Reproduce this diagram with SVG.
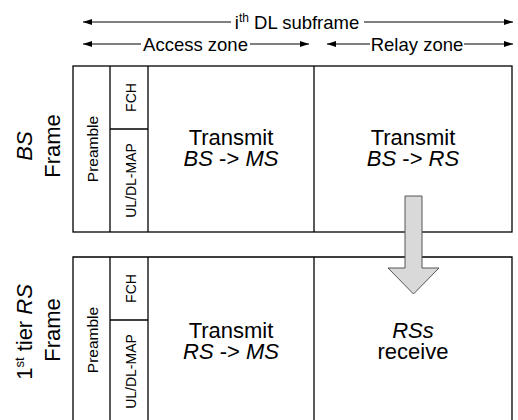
<svg xmlns="http://www.w3.org/2000/svg" width="518" height="420" viewBox="0 0 518 420">
<defs>
<style>
text{font-family:"Liberation Sans",Arial,sans-serif;fill:#000}
.hd{font-size:18.5px;text-anchor:middle}
.big{font-size:22px;text-anchor:middle}
.side{font-size:22px;text-anchor:middle}
.sm{font-size:15.5px;text-anchor:middle}
.sm2{font-size:14px;text-anchor:middle}
.ln{stroke:#000;stroke-width:1.3;fill:none}
.ar{stroke:#000;stroke-width:1;fill:none}
.it{font-style:italic}
</style>
<marker id="ah" markerUnits="userSpaceOnUse" markerWidth="10" markerHeight="6" refX="9" refY="3" orient="auto-start-reverse">
<path d="M0,0 L9,3 L0,6 z" fill="#000"/>
</marker>
</defs>
<rect width="518" height="420" fill="#fff"/>

<g id="header">
<line class="ar" x1="83" y1="22" x2="231" y2="22" marker-start="url(#ah)"/>
<line class="ar" x1="364" y1="22" x2="513" y2="22" marker-end="url(#ah)"/>
<text class="hd" x="297" y="28.5">i<tspan font-size="12" dy="-6.5">th</tspan><tspan dy="6.5"> DL subframe</tspan></text>
<line class="ar" x1="83" y1="44" x2="141" y2="44" marker-start="url(#ah)"/>
<line class="ar" x1="250" y1="44" x2="309" y2="44" marker-end="url(#ah)"/>
<text class="hd" x="195.5" y="50.5">Access zone</text>
<line class="ar" x1="327" y1="44" x2="370" y2="44" marker-start="url(#ah)"/>
<line class="ar" x1="464" y1="44" x2="513" y2="44" marker-end="url(#ah)"/>
<text class="hd" x="417" y="50.5">Relay zone</text>
</g>

<g id="bs-frame">
<rect class="ln" x="73" y="66" width="439" height="166"/>
<line class="ln" x1="110" y1="66" x2="110" y2="232"/>
<line class="ln" x1="148" y1="66" x2="148" y2="232"/>
<line class="ln" x1="110" y1="129" x2="148" y2="129"/>
<line class="ln" x1="314" y1="66" x2="314" y2="232"/>
<text class="side it" transform="translate(32,146) rotate(-90)">BS</text>
<text class="side" transform="translate(60,146) rotate(-90)">Frame</text>
<text class="sm" transform="translate(98,149) rotate(-90)">Preamble</text>
<text class="sm2" transform="translate(136,97.5) rotate(-90)">FCH</text>
<text class="sm2" transform="translate(136,180.5) rotate(-90)">UL/DL-MAP</text>
<text class="big" x="231" y="145">Transmit</text>
<text class="big" x="231" y="166"><tspan class="it">BS</tspan> -&gt; <tspan class="it">MS</tspan></text>
<text class="big" x="413" y="145">Transmit</text>
<text class="big" x="413" y="166"><tspan class="it">BS</tspan> -&gt; <tspan class="it">RS</tspan></text>
</g>

<g id="rs-frame">
<path class="ln" d="M73,425 V257 H512 V425"/>
<line class="ln" x1="110" y1="257" x2="110" y2="425"/>
<line class="ln" x1="148" y1="257" x2="148" y2="425"/>
<line class="ln" x1="110" y1="320" x2="148" y2="320"/>
<line class="ln" x1="314" y1="257" x2="314" y2="425"/>
<text class="side" transform="translate(32,332) rotate(-90)">1<tspan font-size="13" dy="-8">st</tspan><tspan dy="8"> tier </tspan><tspan class="it">RS</tspan></text>
<text class="side" transform="translate(60,330) rotate(-90)">Frame</text>
<text class="sm" transform="translate(98,340) rotate(-90)">Preamble</text>
<text class="sm2" transform="translate(136,288.5) rotate(-90)">FCH</text>
<text class="sm2" transform="translate(136,371.5) rotate(-90)">UL/DL-MAP</text>
<text class="big" x="231" y="338">Transmit</text>
<text class="big" x="231" y="359"><tspan class="it">RS</tspan> -&gt; <tspan class="it">MS</tspan></text>
<text class="big it" x="413" y="338">RSs</text>
<text class="big" x="413" y="359">receive</text>
</g>

<g id="connectors">
<path d="M405,196 H422 V268 H439 L413.5,294 L388,268 H405 Z" fill="#d9d9d9" stroke="#555" stroke-width="1"/>
</g>
</svg>
